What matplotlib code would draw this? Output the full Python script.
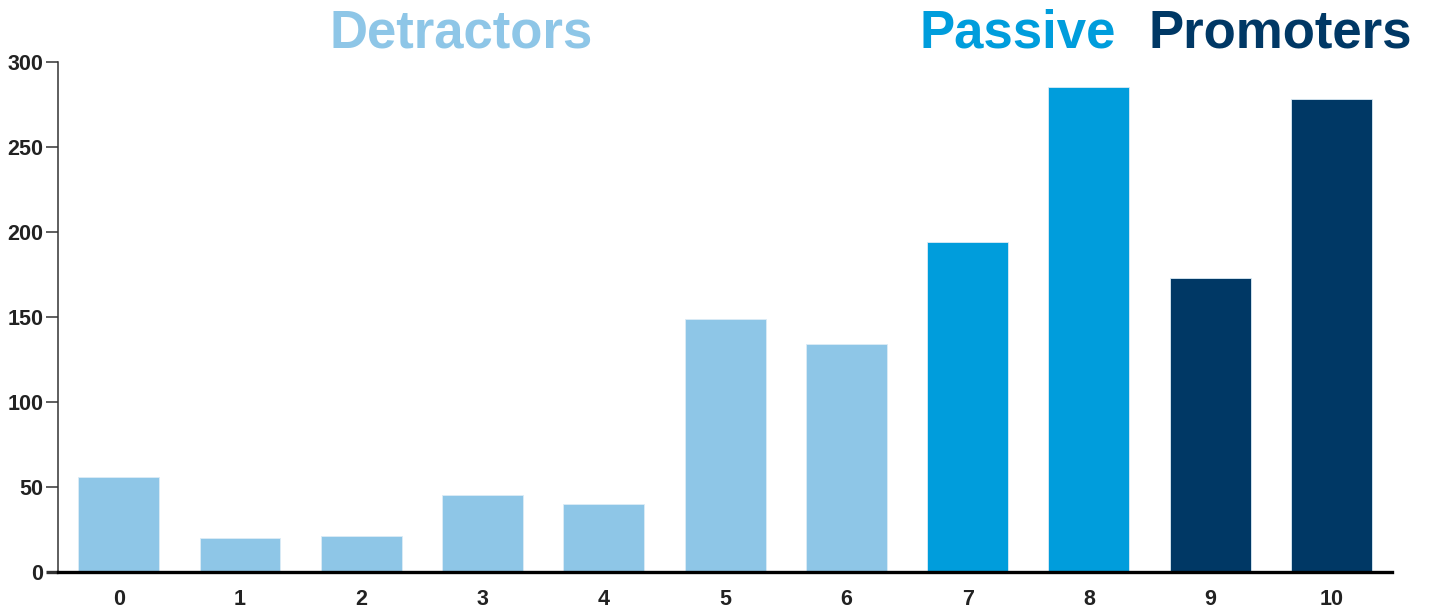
import matplotlib
matplotlib.use("Agg")
import matplotlib.pyplot as plt

scores = [0, 1, 2, 3, 4, 5, 6, 7, 8, 9, 10]
counts = [56, 20, 21, 45, 40, 149, 134, 194, 285, 173, 278]
groups = ["Detractors"] * 7 + ["Passive"] * 2 + ["Promoters"] * 2
yticks = [0, 50, 100, 150, 200, 250, 300]

COLORS = {
    "Detractors": "#8EC6E7",
    "Passive": "#009DDC",
    "Promoters": "#003865",
}

plt.rcParams["font.family"] = ["Liberation Sans", "DejaVu Sans"]

fig = plt.figure(figsize=(14.3, 6.13), dpi=100)
ax = fig.add_axes([0.0406, 0.0669, 0.9329, 0.832])

ax.bar(scores, counts, width=0.667, color=[COLORS[g] for g in groups],
       edgecolor="#dcecf6", linewidth=0.6, zorder=2)

ax.set_xlim(-0.5, 10.5)
ax.set_ylim(0, 300)
ax.set_xticks(scores)
ax.set_xticklabels([str(s) for s in scores])
ax.set_yticks(yticks)

for side in ("top", "right"):
    ax.spines[side].set_visible(False)
ax.spines["left"].set_color("#333333")
ax.spines["left"].set_linewidth(1.1)
ax.spines["bottom"].set_color("black")
ax.spines["bottom"].set_linewidth(2.4)
ax.spines["bottom"].set_zorder(3)

ax.tick_params(axis="x", length=0, pad=12, labelsize=15.5, labelcolor="#222222")
ax.tick_params(axis="y", length=8.6, width=1.1, color="#333333", pad=2,
               labelsize=15.5, labelcolor="#222222")
for lab in ax.get_xticklabels() + ax.get_yticklabels():
    lab.set_fontweight("bold")
zero_tick = ax.yaxis.get_major_ticks()[0]
zero_tick.tick1line.set_markeredgewidth(2.4)
zero_tick.tick1line.set_color("black")

# group headers
fig.text(0.3224, 0.923, "Detractors", ha="center", va="baseline",
         fontsize=38, fontweight="bold", color=COLORS["Detractors"])
fig.text(0.643, 0.923, "Passive", ha="left", va="baseline",
         fontsize=38, fontweight="bold", color=COLORS["Passive"])
fig.text(0.803, 0.923, "Promoters", ha="left", va="baseline",
         fontsize=38, fontweight="bold", color=COLORS["Promoters"])

fig.savefig("out.png", dpi=100)
